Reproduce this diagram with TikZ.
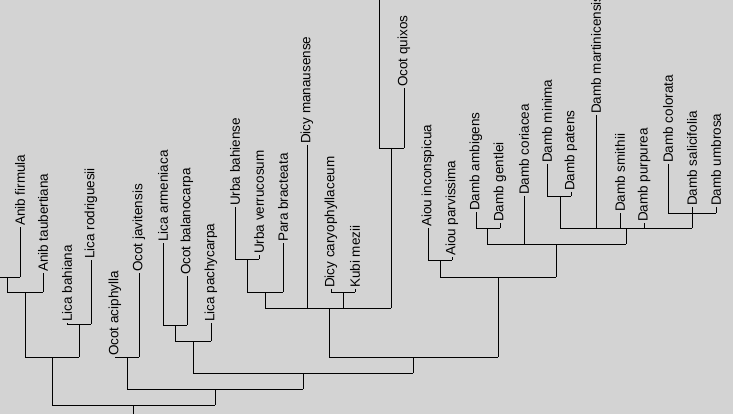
\documentclass[tikz,border=0pt]{standalone}
\usepackage{fontspec}
\setmainfont{Liberation Sans}
\definecolor{panelgray}{RGB}{211,211,211}
\tikzset{
  taxon/.style={rotate=90, anchor=west, inner sep=1pt, font=\fontsize{13.5}{15}\selectfont},
  branch/.style={line width=0.8pt}
}
\begin{document}
\begin{tikzpicture}[x=1pt,y=-1pt]

\fill [panelgray] (0,0) rectangle (733,414);
\useasboundingbox (0,0) rectangle (733,414);
\clip (0,0) rectangle (733,414);

% leaves: x / tip / base / name / label
\foreach \x/\t/\b/\n/\lab in {20/227/277/af/Anib firmula, 43/273/292/at/Anib taubertiana,
  67/323/324/lb/Lica bahiana, 91/260/324/lr/Lica rodriguesii,
  115/357/357/oa/Ocot aciphylla, 139/273/357/oj/Ocot javitensis,
  163/243/325/la/Lica armeniaca, 187/276/325/ob/Ocot balanocarpa,
  211/323/341/lp/Lica pachycarpa, 235/207/259/ub/Urba bahiense,
  259/255/259/uv/Urba verrucosum, 283/243/292/pb/Para bracteata,
  307/145/308/dm/Dicy manausense, 331/289/292/dc/Dicy caryophyllaceum,
  355/289/292/km/Kubi mezii, 404/88/148/oq/Ocot quixos,
  428/228/260/ai/Aiou inconspicua, 452/257/260/ap/Aiou parvissima,
  476/212/228/da/Damb ambigens, 500/223/228/dg/Damb gentlei,
  524/196/244/dco/Damb coriacea, 547/164/196/dmi/Damb minima,
  571/192/196/dpa/Damb patens, 596/115/228/dma/Damb martinicensis,
  620/213/228/dsm/Damb smithii, 644/223/228/dpu/Damb purpurea,
  668/164/213/dcl/Damb colorata, 692/207/213/dsa/Damb salicifolia,
  716/207/213/dum/Damb umbrosa}
{
  \node [taxon] (\n) at (\x,\t) {\lab};
  \draw [branch] (\n.west) -- (\x,\b);
}

% horizontal bars
\foreach \y/\a/\c in {277/0/20, 292/7/43, 324/67/91, 357/25/79, 405/52/215,
  357/115/139, 389/127/303, 325/163/187, 341/175/211, 373/193/413,
  259/235/259, 292/247/283, 308/265/391, 292/331/355, 357/329/498,
  148/379/404, 260/428/452, 277/440/556, 228/476/500, 244/487/626,
  196/547/571, 228/560/692, 213/668/716}
  \draw [branch] (\a,\y) -- (\c,\y);

% vertical stems
\foreach \x/\a/\c in {7/277/292, 25/292/357, 79/324/357, 52/357/405, 133/405/414,
  127/357/389, 175/325/341, 193/341/373, 215/389/405, 303/373/389,
  247/259/292, 265/292/308, 343/292/308, 391/148/308, 329/308/357,
  413/357/373, 379/0/148, 440/260/277, 498/277/357, 487/228/244,
  556/244/277, 560/196/228, 626/228/244, 692/213/228}
  \draw [branch] (\x,\a) -- (\x,\c);

\end{tikzpicture}
\end{document}
